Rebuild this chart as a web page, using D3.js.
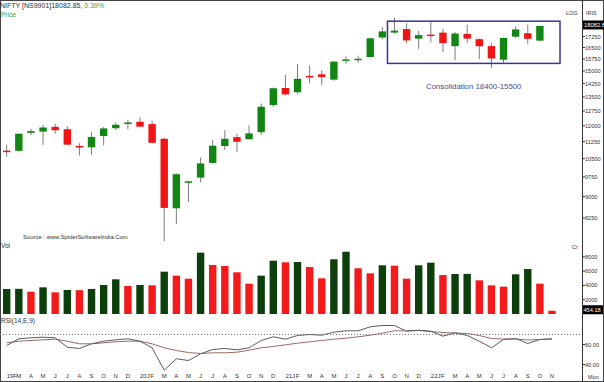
<!DOCTYPE html>
<html><head><meta charset="utf-8">
<script src="https://cdn.jsdelivr.net/npm/d3@7/dist/d3.min.js"></script>
<style>body{margin:0;background:#fff}svg{display:block}text{font-family:"Liberation Sans",Arial,sans-serif}</style>
</head><body><svg id="c" width="604" height="382"></svg>
<script>
// ---- data ----
const months = ["2019-02","2019-03","2019-04","2019-05","2019-06","2019-07","2019-08","2019-09","2019-10","2019-11","2019-12",
"2020-01","2020-02","2020-03","2020-04","2020-05","2020-06","2020-07","2020-08","2020-09","2020-10","2020-11","2020-12",
"2021-01","2021-02","2021-03","2021-04","2021-05","2021-06","2021-07","2021-08","2021-09","2021-10","2021-11","2021-12",
"2022-01","2022-02","2022-03","2022-04","2022-05","2022-06","2022-07","2022-08","2022-09","2022-10","2022-11"];
const xLabels = ["19F","M","A","M","J","J","A","S","O","N","D",
"20J","F","M","A","M","J","J","A","S","O","N","D",
"21J","F","M","A","M","J","J","A","S","O","N","D",
"22J","F","M","A","M","J","J","A","S","O","N"];
const open  = [10851,10842,11665,11725,11954,11839,11060,11000,11515,11886,12137,12202,12086,11388,8585,9533,9726,10323,11057,11464,11364,11697,13062,13997,13758,14702,14798,14481,15629,15755,15874,17185,17531,17784,17104,17388,17529,16593,17437,17069,16594,15704,17243,17486,16968];
const high  = [11118,11630,11856,12041,12103,11981,11181,11694,11945,12159,12294,12430,12247,11434,9890,9598,10554,11341,11794,11618,12025,13146,14024,14754,15432,15337,15044,15606,15916,15962,17154,17948,18604,18210,17640,18351,17794,17559,18115,17132,16794,17172,17992,18096,18022];
const low   = [10586,10817,11549,11108,11625,11107,10637,10671,11090,11802,11832,11929,11176,7511,8055,8807,9544,10299,10882,10790,11347,11557,12963,13597,13662,14265,14151,14416,15450,15513,15835,17055,17452,16782,16410,16836,16203,15671,16825,15736,15184,15512,17155,16748,16956];
const close = [10792,11623,11748,11922,11789,11118,11023,11474,11877,12056,12168,11962,11202,8598,9860,9580,10302,11073,11388,11248,11642,12969,13982,13635,14529,14691,14631,15583,15722,15763,17132,17618,17672,16983,17354,17340,16794,17465,17103,16585,15780,17158,17759,17094,18012];
const volume = [3500,3520,3120,3730,3030,3360,3330,3500,4060,4850,3920,4060,4010,5920,5360,4940,8580,6850,6710,5830,4240,5360,7460,7230,7270,6570,4990,7650,8710,6390,5690,6810,6760,4940,6810,7180,5450,5590,5610,4710,4010,3820,5550,6290,4240,454.18];
const rsi = [59,65.7,66.7,67.3,66.7,57.3,56,60.7,63.3,64.7,65.7,63.3,56.7,34.3,45.7,44,50.7,55,56,54.7,56.7,64,67.7,65.3,69,70,69.3,72.3,73.7,73.7,77.7,79,79,73.3,74.3,73.3,68.3,71.7,69,63.3,56.7,65,66,61,65,65.7];
const rsiSignal = [61.7,63.3,64,64.7,65.3,63.3,60.7,60.7,61.7,62.7,63.3,63.3,60.7,56.7,54,52,51,51.7,51.7,52.3,54.3,56.7,58,59.7,61.3,62.7,64,65.3,66.3,67.7,69.3,71.3,73.7,73.7,74,73,72,71.5,71,69,66,65.5,65.5,64.5,65,65.5];
const priceTicks = [8250,9000,9750,10500,11250,12000,12750,13500,14250,15000,15750,16500,17250];
const volTicks = [2000,4000,6000,8000];
const rsiTicks = [40,60];
const lastPrice = 18082.85, changePct = 0.39;
const boxRange = [15500, 18400];

// ---- layout ----
const svg = d3.select("#c");
const W = 604, H = 382, axisX = 582;
const x = d3.scalePoint().domain(months).range([6.7, 552]);
const yP = d3.scaleLog().domain([7547, 18452]).range([240, 20]);
const yV = d3.scaleLinear().domain([0, 8000]).range([314, 256.8]);
const yR = d3.scaleLinear().domain([40, 60]).range([364.5, 344.5]);
const bw = 7.4;
const GREEN = "#128612", RED = "#f01414", VGREEN = "#0c3f0c", VRED = "#f21a1a";

// frame
svg.append("rect").attr("x",0.5).attr("y",0.5).attr("width",W-1).attr("height",H-1).attr("fill","none").attr("stroke","#444").attr("stroke-width",1);
svg.append("line").attr("x1",axisX+0.5).attr("x2",axisX+0.5).attr("y1",0).attr("y2",H).attr("stroke","#333");

// header
const hdr = svg.append("text").attr("x",0).attr("y",8).attr("font-size",7).attr("fill","#333");
hdr.append("tspan").text(`NIFTY [NS9901]${lastPrice.toFixed(2)}, `);
hdr.append("tspan").attr("fill","#3c9a3c").text(`${changePct.toFixed(2)}%`);
svg.append("text").attr("x",1).attr("y",17).attr("font-size",6.5).attr("fill","#3c9a3c").text("Price");
svg.append("text").attr("x",566).attr("y",15).attr("font-size",5.5).attr("fill","#333").text("LOG");
svg.append("text").attr("x",586).attr("y",15).attr("font-size",5.5).attr("fill","#333").text("IRIS");

// price axis
const pa = svg.append("g");
priceTicks.forEach(t=>{
  const yy = yP(t);
  pa.append("line").attr("x1",axisX).attr("x2",axisX+3).attr("y1",yy).attr("y2",yy).attr("stroke","#333");
  pa.append("text").attr("x",axisX+3).attr("y",yy+2).attr("font-size",5.6).attr("fill","#333").text(t);
});
svg.append("rect").attr("x",axisX+1).attr("y",yP(lastPrice)-4.5).attr("width",21).attr("height",9).attr("fill","#000");
svg.append("text").attr("x",axisX+2).attr("y",yP(lastPrice)+2).attr("font-size",5.8).attr("fill","#fff").text(lastPrice.toFixed(1));

// candles
const candles = svg.append("g");
close.forEach((c,i)=>{
  const o = open[i], cx = x(months[i]);
  candles.append("line").attr("x1",cx).attr("x2",cx).attr("y1",yP(high[i])).attr("y2",yP(low[i])).attr("stroke","#7d7d7d").attr("stroke-width",1);
  const top = yP(Math.max(o,c)), bot = yP(Math.min(o,c));
  candles.append("rect").attr("x",cx-bw/2).attr("y",top).attr("width",bw).attr("height",Math.max(1.5,bot-top))
    .attr("fill", c>=o?GREEN:RED);
});

// consolidation box
const bx0 = x(months[32]) - 7, bx1 = x(months[45]) + 8;
svg.append("rect").attr("x",bx0).attr("y",yP(boxRange[1])+0.5).attr("width",bx1-bx0).attr("height",yP(boxRange[0])-yP(boxRange[1]))
  .attr("fill","none").attr("stroke","#34349a").attr("stroke-width",1.5);
svg.append("text").attr("x",(bx0+bx1)/2).attr("y",89).attr("text-anchor","middle").attr("font-size",7.8).attr("fill","#4b4b90")
  .text(`Consolidation ${boxRange[1]}-${boxRange[0]}`);
svg.append("text").attr("x",23).attr("y",239).attr("font-size",5.9).attr("fill","#333").text("Source : www.SpiderSoftwareIndia.Com");

// volume
svg.append("text").attr("x",1).attr("y",248).attr("font-size",6.5).attr("fill","#333").text("Vol");
svg.append("text").attr("x",572).attr("y",249).attr("font-size",5.6).attr("fill","#333").text("Cr");
volTicks.forEach(t=>{
  const yy = yV(t);
  svg.append("line").attr("x1",axisX).attr("x2",axisX+3).attr("y1",yy).attr("y2",yy).attr("stroke","#333");
  svg.append("text").attr("x",axisX+3).attr("y",yy+2).attr("font-size",5.6).attr("fill","#333").text(t);
});
volume.forEach((v,i)=>{
  const up = i===0 || v>volume[i-1];
  const cx = x(months[i]);
  svg.append("rect").attr("x",cx-bw/2).attr("y",yV(v)).attr("width",bw).attr("height",yV(0)-yV(v)).attr("fill",up?VGREEN:VRED);
});
const lv = volume[volume.length-1];
svg.append("rect").attr("x",axisX+1).attr("y",yV(lv)-5.5).attr("width",20).attr("height",9).attr("fill","#000");
svg.append("text").attr("x",axisX+1.5).attr("y",yV(lv)+1).attr("font-size",5.6).attr("fill","#fff").text(lv.toFixed(2));

// RSI
svg.append("text").attr("x",1).attr("y",323).attr("font-size",6.5).attr("fill","#333").text("RSI(14,E,9)");
svg.append("line").attr("x1",0).attr("x2",axisX).attr("y1",yR(70)).attr("y2",yR(70)).attr("stroke","#777").attr("stroke-dasharray","1,2");
rsiTicks.forEach(t=>{
  const yy = yR(t);
  svg.append("line").attr("x1",axisX).attr("x2",axisX+3).attr("y1",yy).attr("y2",yy).attr("stroke","#333");
  svg.append("text").attr("x",axisX+3).attr("y",yy+2).attr("font-size",5.6).attr("fill","#333").text(t.toFixed(2));
});
const line = d3.line().x((d,i)=>x(months[i])).y(d=>yR(d));
svg.append("path").attr("d",line(rsiSignal)).attr("fill","none").attr("stroke","#9a6a62").attr("stroke-width",1);
svg.append("path").attr("d",line(rsi)).attr("fill","none").attr("stroke","#5c5c5c").attr("stroke-width",1);

// x axis labels
xLabels.forEach((l,i)=>{
  const cx = x(months[i]);
  const t = svg.append("text").attr("y",378).attr("font-size",6).attr("fill","#333").text(l);
  if (l.length>1) t.attr("x",cx).attr("text-anchor","start");
  else t.attr("x",cx).attr("text-anchor","middle");
});
svg.append("text").attr("x",588).attr("y",379).attr("font-size",5.6).attr("fill","#333").text("Mon");
</script></body></html>
